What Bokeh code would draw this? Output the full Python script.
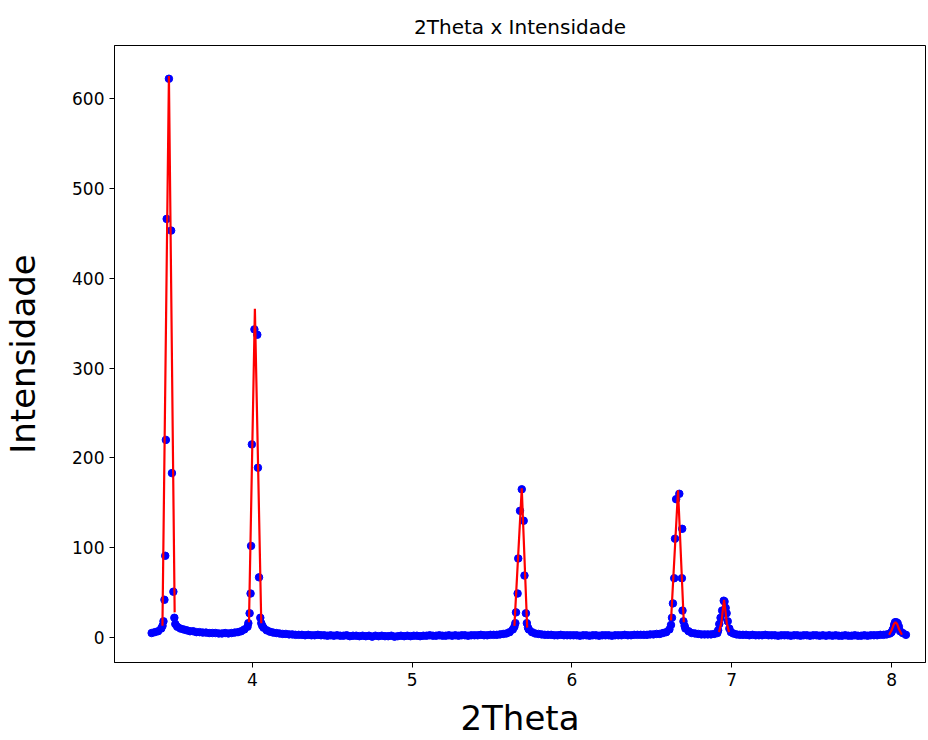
import numpy as np
from bokeh.plotting import figure
from bokeh.models import Range1d, FixedTicker
from bokeh.embed import file_html
from bokeh.resources import INLINE

# ---- data -------------------------------------------------------------
# background scan: 2theta grid (step 0.02) and intensities (None = inside a peak)
scan_start = 3.37
scan_step = 0.02
bg_intensity = [
    5, 6, 7, 10, None, None, None, None, 12, 10,
    9, 8, 7, 7, 6, 6, 5.5, 5.5, 5, 5,
    5, 4.5, 4.5, 5, 4.5, 5, 5.5, 6, 7, 9,
    12, None, None, None, None, 11, 8, 6.5, 5.5, 5,
    4.5, 4, 4, 3.5, 3.5, 3, 3, 3, 2.5, 3,
    2.5, 2.5, 3, 2.5, 2.5, 2, 2.5, 2, 2.5, 2,
    2, 2.5, 1.5, 2, 2, 1.5, 2, 1.5, 2, 1,
    2, 1.5, 2, 1.5, 1.5, 2, 1, 1.5, 2, 1.5,
    2, 1.5, 2, 2, 1.5, 2, 2, 2.5, 2, 2,
    2.5, 2, 2, 2.5, 2, 2.5, 2, 2.5, 2.5, 2,
    2.5, 2.5, 2.5, 3, 2.5, 2.5, 3, 3, 3, 3.5,
    4, 4.5, 6, 9, None, None, None, None, 9, 6,
    4.5, 4, 3.5, 3, 3, 3, 2.5, 2.5, 3, 2.5,
    2.5, 2.5, 2.5, 2.5, 2, 2.5, 2.5, 2, 2.5, 2.5,
    2, 2.5, 2.5, 2.5, 2, 2.5, 2.5, 2.5, 3, 2.5,
    2.5, 3, 3, 3, 3, 3, 3.5, 3.5, 4, 4,
    5, 6, 9, None, None, None, None, 10, 7, 5,
    4.5, 4, 3.5, 3.5, 3.5, 3.5, 4, 5, None, None,
    None, None, 4.5, 3.5, 3, 3, 3, 2.5, 3, 2.5,
    2.5, 2.5, 3, 2.5, 2.5, 2.5, 2, 2.5, 2.5, 2.5,
    2, 2.5, 2.5, 2, 2.5, 2.5, 2, 2.5, 2.5, 2,
    2.5, 2, 2.5, 2, 2.5, 2, 2, 2.5, 2, 2,
    2.5, 2, 2, 2.5, 2, 2.5, 2.5, 2.5, 3, 3,
    3.5, 4.5, None, None, None, 5, 3,
]

# peak points (2theta, intensity)
peak1_x = [3.438, 3.444, 3.450, 3.455, 3.459, 3.464, 3.478, 3.492, 3.497, 3.506, 3.512, 3.518]
peak1_y = [13, 18, 42, 91, 220, 466, 622, 453, 183, 51, 22, 15]
peak2_x = [3.975, 3.983, 3.989, 3.992, 3.997, 4.013, 4.031, 4.035, 4.042, 4.050, 4.056, 4.062]
peak2_y = [16, 27, 49, 102, 215, 343, 337, 189, 67, 22, 16, 13]
peak3_x = [5.640, 5.646, 5.650, 5.660, 5.664, 5.675, 5.686, 5.698, 5.703, 5.712, 5.718, 5.725]
peak3_y = [12, 16, 28, 49, 88, 141, 165, 130, 69, 27, 16, 11]
peak4_x = [6.620, 6.626, 6.632, 6.640, 6.645, 6.652, 6.672, 6.688, 6.690, 6.692, 6.698, 6.705]
peak4_y = [14, 22, 38, 66, 110, 154, 160, 66, 121, 30, 18, 13]
peak5_x = [6.915, 6.922, 6.930, 6.940, 6.950, 6.955, 6.962, 6.968, 6.975, 6.985, 6.995]
peak5_y = [8, 15, 22, 30, 41, 40, 33, 27, 18, 10, 6]
peak6_x = [8.000, 8.008, 8.016, 8.022, 8.030, 8.038, 8.046, 8.054]
peak6_y = [6, 9, 14, 17, 17, 16, 12, 7]

# fitted curves (red)
fit1_x = [3.4375, 3.478, 3.514]
fit1_y = [13, 625, 28]
fit2_x = [3.979, 4.016, 4.056]
fit2_y = [17, 366, 16]
fit3_x = [5.640, 5.686, 5.720]
fit3_y = [13, 166, 11]
fit4_x = [6.620, 6.664, 6.700]
fit4_y = [19, 164, 17]
fit5_x = [6.920, 6.935, 6.945, 6.952, 6.959, 6.969, 6.983]
fit5_y = [6, 16, 32, 42, 32, 16, 6]
fit6_x = [7.985, 8.000, 8.015, 8.025, 8.035, 8.050, 8.065]
fit6_y = [3, 8, 15, 17, 15, 8, 3]

x_ticks = [4, 5, 6, 7, 8]
y_ticks = [0, 100, 200, 300, 400, 500, 600]

# ---- assemble ---------------------------------------------------------
bg_y = np.array(bg_intensity, dtype=float)
bg_x = np.round(scan_start + scan_step * np.arange(len(bg_y)), 3)

pts_x = np.concatenate([bg_x, peak1_x, peak2_x, peak3_x, peak4_x, peak5_x, peak6_x])
pts_y = np.concatenate([bg_y, peak1_y, peak2_y, peak3_y, peak4_y, peak5_y, peak6_y])
mask = ~np.isnan(pts_y)
pts_x, pts_y = pts_x[mask], pts_y[mask]

FONT = "DejaVu Sans"

p = figure(width=928, height=740,
           x_range=Range1d(3.1375, 8.2125), y_range=Range1d(-27.8, 659),
           output_backend="svg", toolbar_location=None,
           title="2Theta x Intensidade")
p.min_border_left = 113
p.min_border_right = 3
p.min_border_top = 45
p.min_border_bottom = 78

p.title.align = "center"
p.title.text_font = FONT
p.title.text_font_size = "20px"
p.title.text_font_style = "normal"
p.title.text_color = "black"
p.title.standoff = 14

p.xgrid.visible = False
p.ygrid.visible = False
p.outline_line_color = "black"
p.outline_line_width = 1
p.background_fill_color = "white"
p.border_fill_color = "white"

for ax in (p.xaxis[0], p.yaxis[0]):
    ax.axis_line_color = "black"
    ax.major_tick_line_color = "black"
    ax.major_tick_out = 5
    ax.major_tick_in = 0
    ax.minor_tick_line_color = None
    ax.major_label_text_font = FONT
    ax.major_label_text_font_size = "17px"
    ax.major_label_text_color = "black"
    ax.axis_label_text_font = FONT
    ax.axis_label_text_font_size = "34px"
    ax.axis_label_text_font_style = "normal"
    ax.axis_label_text_color = "black"

p.xaxis[0].ticker = FixedTicker(ticks=x_ticks)
p.yaxis[0].ticker = FixedTicker(ticks=y_ticks)
p.xaxis[0].axis_label = "2Theta"
p.yaxis[0].axis_label = "Intensidade"
p.xaxis[0].axis_label_standoff = 9
p.yaxis[0].axis_label_standoff = 26

p.scatter(pts_x, pts_y, size=7.5, color="blue", line_color="blue")

for fx, fy in [(fit1_x, fit1_y), (fit2_x, fit2_y), (fit3_x, fit3_y),
               (fit4_x, fit4_y), (fit5_x, fit5_y), (fit6_x, fit6_y)]:
    p.line(fx, fy, color="red", line_width=2.2)

open("out.html", "w").write(file_html(p, INLINE))
